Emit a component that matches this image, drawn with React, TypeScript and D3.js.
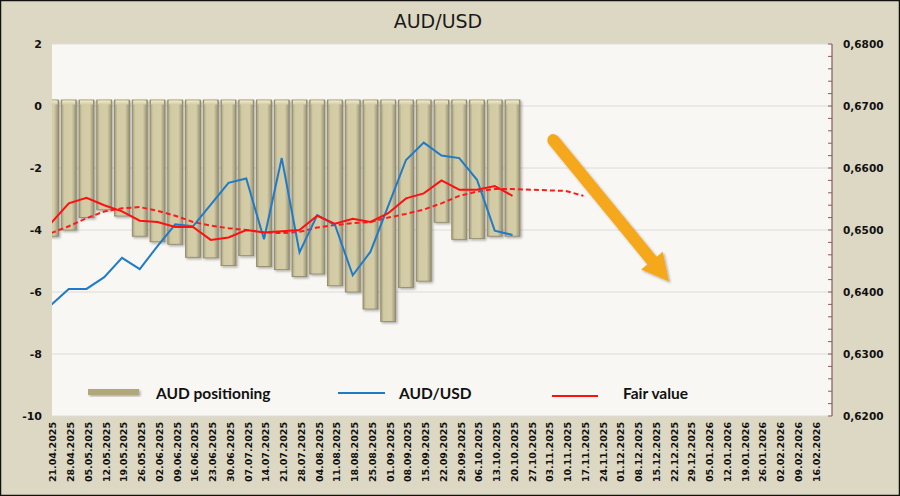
import * as d3 from "d3";

const dates = [
  "21.04.2025", "28.04.2025", "05.05.2025", "12.05.2025", "19.05.2025", "26.05.2025",
  "02.06.2025", "09.06.2025", "16.06.2025", "23.06.2025", "30.06.2025", "07.07.2025",
  "14.07.2025", "21.07.2025", "28.07.2025", "04.08.2025", "11.08.2025", "18.08.2025",
  "25.08.2025", "01.09.2025", "08.09.2025", "15.09.2025", "22.09.2025", "29.09.2025",
  "06.10.2025", "13.10.2025", "20.10.2025", "27.10.2025", "03.11.2025", "10.11.2025",
  "17.11.2025", "24.11.2025", "01.12.2025", "08.12.2025", "15.12.2025", "22.12.2025",
  "29.12.2025", "05.01.2026", "12.01.2026", "19.01.2026", "26.01.2026", "02.02.2026",
  "09.02.2026", "16.02.2026",
];

// AUD positioning (left axis)
const positioning = [
  -4.2, -4.0, -3.6, -3.35, -3.55, -4.2, -4.38, -4.46, -4.88, -4.9, -5.15, -4.83, -5.18,
  -5.28, -5.5, -5.42, -5.8, -6.0, -6.55, -6.95, -5.85, -5.65, -3.75, -4.3, -4.28, -4.2, -4.2,
];

// AUD/USD spot (right axis)
const audusd = [
  0.6379, 0.6405, 0.6405, 0.6424, 0.6455, 0.6437, 0.6474, 0.6509, 0.6506, 0.6541, 0.6576,
  0.6583, 0.6485, 0.6616, 0.6464, 0.6524, 0.6508, 0.6427, 0.6465, 0.6539, 0.6613, 0.6641,
  0.662, 0.6616, 0.6581, 0.6499, 0.6492,
];

// fair value (right axis)
const fairValue = [
  0.6511, 0.6543, 0.6552, 0.654, 0.653, 0.6515, 0.6513, 0.6505, 0.6505, 0.6484, 0.6488,
  0.65, 0.6496, 0.6498, 0.65, 0.6523, 0.651, 0.6518, 0.6513, 0.6527, 0.6551, 0.6559,
  0.658, 0.6565, 0.6565, 0.6571, 0.6555,
];

// fair value trend (dashed)
const fairTrend = [
  0.6495, 0.6506, 0.6519, 0.653, 0.6535, 0.6537, 0.6531, 0.6523, 0.6513, 0.6507, 0.6503,
  0.65, 0.6496, 0.6495, 0.6497, 0.6504, 0.6508, 0.6511, 0.6513, 0.652, 0.6526, 0.6533,
  0.6543, 0.6555, 0.6562, 0.6566, 0.6566, 0.6565, 0.6564, 0.6563, 0.6555,
];

const leftTicks = [2, 0, -2, -4, -6, -8, -10];
const rightTicks = [0.68, 0.67, 0.66, 0.65, 0.64, 0.63, 0.62];

// arrow annotation in data units: [category index, right-axis value]
const arrowFrom = [28.3, 0.6645];
const arrowTo = [34.82, 0.6417];

const W = 900;
const H = 496;
const plot = { left: 52, right: 832, top: 44, bottom: 416 };

export default function App() {
  const x = d3
    .scalePoint<string>()
    .domain(dates)
    .range([51, 814.25]);
  const xi = d3.scaleLinear().domain([0, dates.length - 1]).range(x.range());
  const yL = d3.scaleLinear().domain([-10, 2]).range([plot.bottom, plot.top]);
  const yR = d3.scaleLinear().domain([0.62, 0.68]).range([plot.bottom, plot.top]);

  const line = d3
    .line<number>()
    .x((_, i) => x(dates[i]) as number)
    .y((d) => yR(d));

  const minorTicks = d3.range(0, 31).map((i) => 0.62 + i * 0.002);
  const barW = 15;

  // arrow geometry
  const ax0 = xi(arrowFrom[0]);
  const ay0 = yR(arrowFrom[1]);
  const ax1 = xi(arrowTo[0]);
  const ay1 = yR(arrowTo[1]);
  const len = Math.hypot(ax1 - ax0, ay1 - ay0);
  const ux = (ax1 - ax0) / len;
  const uy = (ay1 - ay0) / len;
  const headL = 27;
  const headW = 14;
  const bx = ax1 - ux * headL;
  const by = ay1 - uy * headL;
  const head = [
    [ax1, ay1],
    [bx - uy * headW, by + ux * headW],
    [bx + uy * headW, by - ux * headW],
  ];

  return (
    <svg
      width={W}
      height={H}
      style={{ position: "absolute", left: 0, top: 0 }}
      fontFamily="DejaVu Sans"
    >
      <defs>
        <linearGradient id="barGrad" x1="0" x2="1" y1="0" y2="0">
          <stop offset="0" stopColor="#a39c7a" />
          <stop offset="0.2" stopColor="#d1caa3" />
          <stop offset="0.7" stopColor="#d4cda7" />
          <stop offset="1" stopColor="#989172" />
        </linearGradient>
        <linearGradient id="capGrad" x1="0" x2="0" y1="0" y2="1">
          <stop offset="0" stopColor="#f1ebc8" />
          <stop offset="1" stopColor="#d3cca6" />
        </linearGradient>
        <clipPath id="plotClip">
          <rect x={plot.left} y={plot.top} width={plot.right - plot.left} height={plot.bottom - plot.top} />
        </clipPath>
        <filter id="shadow" x="-20%" y="-20%" width="140%" height="140%">
          <feDropShadow dx="1.5" dy="1.5" stdDeviation="1.2" floodColor="#000" floodOpacity="0.3" />
        </filter>
      </defs>

      <rect x={0.5} y={0.5} width={W - 1} height={H - 1} fill="#ddd8c4" stroke="#111" strokeWidth={1.5} />
      <rect
        x={plot.left}
        y={plot.top}
        width={plot.right - plot.left}
        height={plot.bottom - plot.top}
        fill="#f8f7f3"
      />

      <text x={438} y={28} textAnchor="middle" fontSize={19} fill="#1a1a1a">
        AUD/USD
      </text>

      {/* grid */}
      {leftTicks.map((t) => (
        <line
          key={t}
          x1={plot.left}
          x2={plot.right}
          y1={yL(t)}
          y2={yL(t)}
          stroke="#dcdcdc"
          strokeWidth={1}
        />
      ))}

      <g clipPath="url(#plotClip)">
        {/* bars */}
        <g filter="url(#shadow)">
          {positioning.map((v, i) => {
            const cx = x(dates[i]) as number;
            const top = yL(0) - 6;
            return (
              <g key={i}>
                <rect
                  x={cx - barW / 2}
                  y={top}
                  width={barW}
                  height={yL(v) - top}
                  fill="url(#barGrad)"
                  stroke="#8a8466"
                  strokeWidth={0.8}
                />
                <rect
                  x={cx - barW / 2 + 1}
                  y={top + 0.5}
                  width={barW - 2}
                  height={4}
                  fill="url(#capGrad)"
                />
              </g>
            );
          })}
        </g>

        <path d={line(fairTrend) ?? ""} fill="none" stroke="#ff1a1a" strokeWidth={2} strokeDasharray="5,3" />
        <path d={line(audusd) ?? ""} fill="none" stroke="#1f7bc8" strokeWidth={2} />
        <path d={line(fairValue) ?? ""} fill="none" stroke="#ff1010" strokeWidth={2} />
      </g>

      {/* arrow */}
      <g filter="url(#shadow)">
        <line
          x1={ax0}
          y1={ay0}
          x2={bx + ux * 2}
          y2={by + uy * 2}
          stroke="#f5a81c"
          strokeWidth={12}
          strokeLinecap="round"
        />
        <polygon points={head.map((p) => p.join(",")).join(" ")} fill="#f5a81c" />
      </g>

      {/* left axis labels */}
      {leftTicks.map((t) => (
        <text
          key={t}
          x={42}
          y={yL(t)}
          dy="0.35em"
          textAnchor="end"
          fontSize={11}
          fontWeight="bold"
          fill="#111"
        >
          {t}
        </text>
      ))}

      {/* right axis */}
      <line x1={plot.right} x2={plot.right} y1={plot.top} y2={plot.bottom} stroke="#8b5a5a" strokeWidth={1.2} />
      {minorTicks.map((t, i) => (
        <line
          key={i}
          x1={plot.right - 4}
          x2={plot.right}
          y1={yR(t)}
          y2={yR(t)}
          stroke="#8b5a5a"
          strokeWidth={1}
        />
      ))}
      {rightTicks.map((t) => (
        <text
          key={t}
          x={843}
          y={yR(t)}
          dy="0.35em"
          fontSize={10.5}
          fontWeight="bold"
          fill="#111"
        >
          {d3.format(".4f")(t).replace(".", ",")}
        </text>
      ))}

      {/* x labels */}
      {dates.map((d) => {
        const px = (x(d) as number) + 2;
        return (
          <text
            key={d}
            transform={`translate(${px},${422}) rotate(-90)`}
            textAnchor="end"
            dy="0.35em"
            fontSize={9.5}
            fontWeight="bold"
            fill="#111"
          >
            {d}
          </text>
        );
      })}

      {/* legend */}
      <g fontFamily="Lato" fontWeight="bold" fontSize={15.5} fill="#111">
        <rect x={88} y={389} width={51} height={6} fill="#b0a87a" filter="url(#shadow)" />
        <text x={156} y={399}>AUD positioning</text>
        <line x1={338} x2={385} y1={393} y2={393} stroke="#1f7bc8" strokeWidth={2} />
        <text x={399} y={399}>AUD/USD</text>
        <line x1={552} x2={598} y1={396} y2={396} stroke="#ff1010" strokeWidth={2} />
        <text x={623} y={399}>Fair value</text>
      </g>
    </svg>
  );
}
